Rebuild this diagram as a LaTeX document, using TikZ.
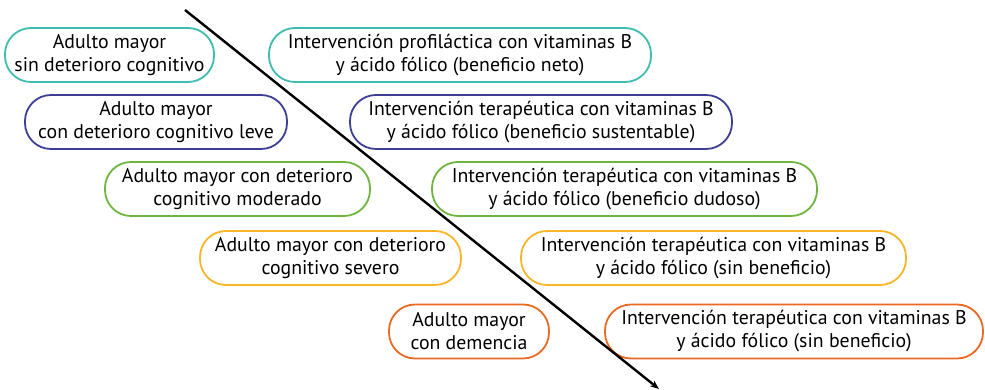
\documentclass[tikz,border=0pt]{standalone}
\usepackage{fontspec}
\setmainfont{PT Sans}
\usetikzlibrary{arrows.meta}
\definecolor{cteal}{RGB}{62,188,176}
\definecolor{cblue}{RGB}{62,63,148}
\definecolor{cgreen}{RGB}{110,180,62}
\definecolor{cyellow}{RGB}{247,181,40}
\definecolor{corange}{RGB}{234,106,36}
\tikzset{
  pill/.style={draw=#1, line width=1.8pt, rounded corners=26pt, minimum height=54pt,
    inner sep=0pt, align=center, font=\fontsize{19.8}{23}\selectfont},
}
\begin{document}
\begin{tikzpicture}[x=1pt,y=1pt]
\useasboundingbox (0,0) rectangle (985,390);
\node[pill=cteal, minimum width=209pt] (l1) at (109.5,335) {Adulto mayor\\sin deterioro cognitivo};
\node[pill=cteal, minimum width=382pt] (r1) at (460,335) {Intervención profiláctica con vitaminas B\\y ácido fólico (beneficio neto)};
\node[pill=cblue, minimum width=262pt] (l2) at (156,268) {Adulto mayor\\con deterioro cognitivo leve};
\node[pill=cblue, minimum width=382pt] (r2) at (541,268) {Intervención terapéutica con vitaminas B\\y ácido fólico (beneficio sustentable)};
\node[pill=cgreen, minimum width=265pt] (l3) at (237.5,201) {Adulto mayor con deterioro\\cognitivo moderado};
\node[pill=cgreen, minimum width=385pt] (r3) at (624.5,201) {Intervención terapéutica con vitaminas B\\y ácido fólico (beneficio dudoso)};
\node[pill=cyellow, minimum width=261pt] (l4) at (330.5,132) {Adulto mayor con deterioro\\cognitivo severo};
\node[pill=cyellow, minimum width=385pt] (r4) at (713.5,132) {Intervención terapéutica con vitaminas B\\y ácido fólico (sin beneficio)};
\node[pill=corange, minimum width=160pt] (l5) at (469,58.5) {Adulto mayor\\con demencia};
\node[pill=corange, minimum width=378pt] (r5) at (794,58.5) {Intervención terapéutica con vitaminas B\\y ácido fólico (sin beneficio)};
\coordinate (s) at (185,380);
\coordinate (e) at (659,1);
\draw[line width=2.4pt, -{Stealth[length=9pt,width=7pt]}] (s) -- (e);
\end{tikzpicture}
\end{document}
